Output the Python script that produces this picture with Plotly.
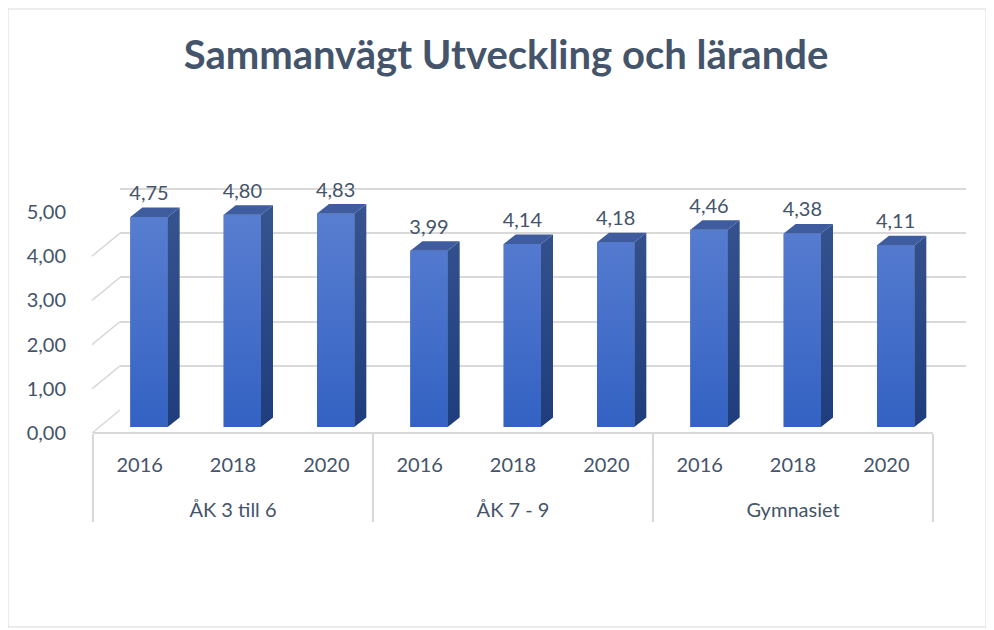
import plotly.graph_objects as go

# ---- data ----
GROUPS = ["ÅK 3 till 6", "ÅK 7 - 9", "Gymnasiet"]
YEARS = ["2016", "2018", "2020"]
VALUES = [4.75, 4.80, 4.83, 3.99, 4.14, 4.18, 4.46, 4.38, 4.11]
Y_TICKS = [0, 1, 2, 3, 4, 5]
TITLE = "Sammanvägt Utveckling och lärande"

# ---- style ----
W, H = 994, 630
PAGE_OFFSET = 8          # browser body margin
TEXT = "#44546A"
GRID = "#D9D9D9"
FRONT = "#4670CA"
FRONT_TOP = "#5A7FD1"
FRONT_BOTTOM = "#3362C3"
SIDE_TOP = "#36548F"
SIDE_BOTTOM = "#1F3C7C"
TOP_FACE = "#3E5C9E"
FONT = "Lato"
PX_PER_UNIT = 44.2
BAR_W = 0.4
BAR_OFF = -0.1
DEPTH_X = 12 / 93.33     # category units
DEPTH_Y = 9.5 / PX_PER_UNIT
LABEL_LIFT = 0.27

grp = [g for g in GROUPS for _ in YEARS]
yrs = [y for _ in GROUPS for y in YEARS]
yrs_disp = [y + "<br><span style='font-size:48px'> </span>" for y in yrs]
idx = list(range(len(VALUES)))


def px_x(p):
    return (p - PAGE_OFFSET) / W


def px_y(p):
    return 1 - (p - PAGE_OFFSET) / H


def polys(kind):
    xs, ys = [], []
    for i, v in zip(idx, VALUES):
        l = i + BAR_OFF
        r = l + BAR_W
        if kind == "front":
            px = [l, r, r, l, l]
            py = [0, 0, v, v, 0]
        elif kind == "side":
            px = [r, r + DEPTH_X, r + DEPTH_X, r, r]
            py = [0, DEPTH_Y, v + DEPTH_Y, v, 0]
        else:
            px = [l, r, r + DEPTH_X, l + DEPTH_X, l]
            py = [v, v, v + DEPTH_Y, v + DEPTH_Y, v]
        xs += px + [None]
        ys += py + [None]
    return xs, ys


fig = go.Figure()

# dummy trace for the back-wall grid subplot
fig.add_trace(go.Scatter(x=[0.5], y=[0], xaxis="x", yaxis="y", mode="markers",
                         marker=dict(opacity=0), hoverinfo="skip", showlegend=False))

# front faces (bars)
fig.add_trace(go.Bar(x=[grp, yrs_disp], y=VALUES, width=BAR_W, offset=BAR_OFF,
                     marker=dict(color=FRONT, line=dict(width=0)),
                     xaxis="x2", yaxis="y2", showlegend=False,
                     customdata=[[g, y] for g, y in zip(grp, yrs)],
                     hovertemplate="%{customdata[0]} %{customdata[1]}: %{y:.2f}<extra></extra>"))

# 3D shading: front gradient, side faces, top faces
fx, fy = polys("front")
fig.add_trace(go.Scatter(x=fx, y=fy, xaxis="x3", yaxis="y2", mode="lines", fill="toself",
                         line=dict(width=0), hoverinfo="skip", showlegend=False,
                         fillgradient=dict(type="vertical", start=0, stop=5,
                                           colorscale=[[0, FRONT_BOTTOM], [1, FRONT_TOP]])))
sx, sy = polys("side")
fig.add_trace(go.Scatter(x=sx, y=sy, xaxis="x3", yaxis="y2", mode="lines", fill="toself",
                         line=dict(width=0), hoverinfo="skip", showlegend=False,
                         fillgradient=dict(type="vertical", start=0, stop=5,
                                           colorscale=[[0, SIDE_BOTTOM], [1, SIDE_TOP]])))
tx, ty = polys("top")
fig.add_trace(go.Scatter(x=tx, y=ty, xaxis="x3", yaxis="y2", mode="lines", fill="toself",
                         fillcolor=TOP_FACE, line=dict(width=0), hoverinfo="skip",
                         showlegend=False))

# data labels
fig.add_trace(go.Scatter(x=[i + BAR_OFF + BAR_W / 2 for i in idx],
                         y=[v + LABEL_LIFT for v in VALUES],
                         text=[f"{v:.2f}".replace(".", ",") for v in VALUES],
                         mode="text", textposition="top center",
                         textfont=dict(family=FONT, size=20, color=TEXT),
                         xaxis="x3", yaxis="y2", hoverinfo="skip", showlegend=False,
                         cliponaxis=False))
# dummy for the front value-axis labels
fig.add_trace(go.Scatter(x=[[grp[0]], [yrs_disp[0]]], y=[0], xaxis="x2", yaxis="y3",
                         mode="markers", marker=dict(opacity=0), hoverinfo="skip",
                         showlegend=False))

shapes = []
for v in Y_TICKS:
    shapes.append(dict(type="line", xref="paper", yref="y3",
                       x0=px_x(92), x1=px_x(120),
                       y0=v, y1=v + 23 / PX_PER_UNIT,
                       line=dict(color=GRID, width=1.5), layer="below"))
shapes.append(dict(type="rect", xref="paper", yref="paper",
                   x0=px_x(8), x1=px_x(986), y0=px_y(627), y1=px_y(9),
                   line=dict(color=GRID, width=1), layer="below"))

fig.update_layout(
    width=W, height=H, autosize=False,
    margin=dict(l=0, r=0, t=0, b=0, pad=0, autoexpand=False),
    paper_bgcolor="white", plot_bgcolor="rgba(0,0,0,0)",
    font=dict(family=FONT, size=20, color=TEXT),
    separators=", ",
    barmode="overlay",
    showlegend=False,
    title=dict(text=TITLE, x=px_x(506), y=px_y(55), xanchor="center", yanchor="middle",
               automargin=False,
               font=dict(family=FONT, size=40, color=TEXT, weight="bold")),
    # back wall grid
    xaxis=dict(domain=[px_x(120), px_x(966)], range=[0, 1], visible=False, anchor="y",
               automargin=False),
    yaxis=dict(domain=[px_y(410), px_y(410 - 5.2 * PX_PER_UNIT)], range=[0, 5.2], anchor="x",
               tickvals=Y_TICKS, showticklabels=False, ticks="", automargin=False,
               showgrid=True, gridcolor=GRID, gridwidth=1.5, zeroline=False, showline=False),
    # bars
    xaxis2=dict(domain=[px_x(93), px_x(933)], anchor="free", position=px_y(433),
                type="multicategory", range=[-0.5, 8.5], automargin=False,
                showline=True, linecolor=GRID, linewidth=1.5,
                showdividers=True, dividercolor=GRID, dividerwidth=1.5,
                ticklabelstandoff=14,
                ticks="", showgrid=False, tickfont=dict(family=FONT, size=20, color=TEXT)),
    yaxis2=dict(domain=[px_y(427), px_y(427 - 6 * PX_PER_UNIT)], range=[0, 6], anchor="x2",
                showticklabels=False, ticks="", automargin=False,
                showgrid=False, zeroline=False, showline=False),
    # front value axis (labels only)
    yaxis3=dict(domain=[px_y(433), px_y(433 - 5 * PX_PER_UNIT)], range=[0, 5], anchor="x2",
                tickvals=Y_TICKS, tickformat=".2f", ticks="outside", ticklen=22,
                tickcolor="rgba(0,0,0,0)", automargin=False,
                showgrid=False, zeroline=False, showline=False,
                tickfont=dict(family=FONT, size=20, color=TEXT)),
    xaxis3=dict(overlaying="x2", anchor="y2", range=[-0.5, 8.5], visible=False),
    shapes=shapes,
)

fig.write_html("out.html")
